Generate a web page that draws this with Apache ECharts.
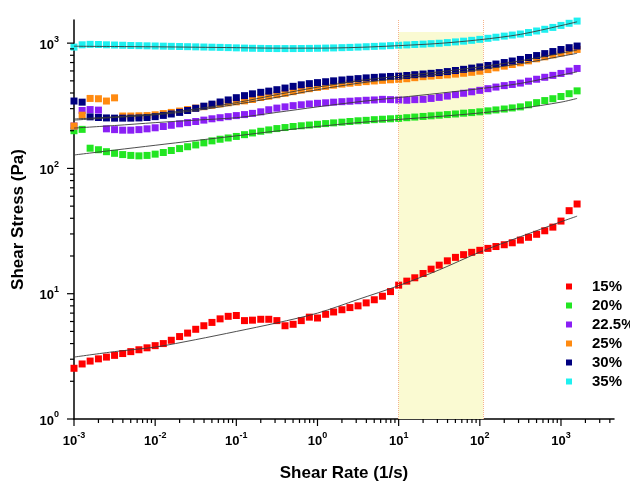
<!DOCTYPE html>
<html>
<head>
<meta charset="utf-8">
<script src="https://cdn.jsdelivr.net/npm/echarts@6/dist/echarts.min.js"></script>
<style>
  html, body { margin: 0; padding: 0; background: #ffffff; }
  #chart { width: 630px; height: 487px; }
</style>
</head>
<body>
<div id="chart"></div>
<script>
// Shear sweep grid (1/s), ten points per decade
const shearRate = [
  0.001, 0.00126, 0.00158, 0.002, 0.00251, 0.00316, 0.00398, 0.00501, 0.00631, 0.00794,
  0.01, 0.0126, 0.0158, 0.02, 0.0251, 0.0316, 0.0398, 0.0501, 0.0631, 0.0794,
  0.1, 0.126, 0.158, 0.2, 0.251, 0.316, 0.398, 0.501, 0.631, 0.794,
  1, 1.26, 1.58, 2, 2.51, 3.16, 3.98, 5.01, 6.31, 7.94,
  10, 12.6, 15.8, 20, 25.1, 31.6, 39.8, 50.1, 63.1, 79.4,
  100, 126, 158, 200, 251, 316, 398, 501, 631, 794,
  1000, 1260, 1580
];

const concentrations = ['15%', '20%', '22.5%', '25%', '30%', '35%'];
const colors = ['#ff0000', '#22e622', '#8a1ff5', '#ff8a10', '#000080', '#1ef0f0'];

// Measured shear stress (Pa)
const stress15 = [
  2.54, 2.75, 2.9, 3.02, 3.12, 3.22, 3.33, 3.45, 3.57, 3.70, 3.85,
  4.0, 4.25, 4.55, 4.85, 5.2, 5.55, 5.9, 6.3, 6.6, 6.7,
  6.1, 6.15, 6.25, 6.25, 6.1, 5.55, 5.7, 6.1, 6.5, 6.4,
  6.85, 7.15, 7.45, 7.75, 8.0, 8.45, 8.95, 9.55, 10.4, 11.7,
  12.6, 13.4, 14.5, 15.7, 16.9, 18.3, 19.5, 20.5, 21.4, 22.2,
  23.0, 23.8, 24.6, 25.5, 26.8, 28.2, 29.8, 31.8, 34.0, 38,
  46, 52
];
const stress20 = [
  200, 205, 145, 141, 136, 132, 129, 127, 126, 127, 130,
  134, 139, 144, 149, 154, 160, 166, 171, 175, 180,
  186, 192, 198, 203, 208, 212, 216, 219, 222, 225,
  228, 231, 234, 237, 240, 242, 245, 247, 249, 251,
  254, 257, 260, 263, 266, 269, 272, 276, 279, 283,
  288, 293, 298, 304, 310, 322, 335, 348, 360, 375,
  395, 416
];
const stress225 = [
  218, 290, 295, 292, 207, 204, 202, 202, 204, 207, 211,
  216, 221, 227, 232, 237, 243, 249, 254, 259, 264,
  269, 275, 283, 294, 303, 310, 317, 322, 327, 331,
  334, 338, 341, 344, 347, 350, 352, 356, 354, 352,
  350, 354, 356, 362, 369, 378, 388, 398, 409, 420,
  433, 446, 458, 468, 480, 497, 515, 534, 553, 573,
  598, 628
];
const stress25 = [
  218, 266, 362, 360, 345, 366, 262, 262, 263, 264, 268,
  274, 280, 287, 295, 303, 311, 319, 327, 334, 340,
  346, 355, 368, 377, 387, 398, 410, 422, 433, 443,
  452, 462, 471, 479, 486, 493, 499, 505, 510, 514,
  520, 530, 540, 546, 552, 558, 566, 575, 585, 597,
  615, 635, 655, 675, 697, 722, 750, 778, 806, 835,
  862, 891
];
const stress30 = [
  345, 338, 258, 255, 253, 252, 252, 252, 253, 255, 259,
  265, 272, 280, 290, 302, 314, 326, 339, 352, 367,
  381, 394, 405, 414, 425, 438, 452, 465, 475, 484,
  492, 500, 508, 515, 521, 528, 533, 538, 542, 546,
  552, 560, 567, 574, 582, 593, 605, 618, 632, 646,
  663, 681, 700, 720, 741, 768, 796, 825, 857, 890,
  920, 948
];
const stress35 = [
  930, 970, 978, 975, 970, 966, 962, 958, 955, 952, 949,
  946, 943, 940, 937, 934, 931, 928, 925, 921, 917,
  913, 910, 908, 906, 905, 905, 905, 906, 908, 910,
  913, 916, 920, 925, 930, 936, 942, 948, 955, 962,
  968, 975, 982, 990, 998, 1010, 1023, 1037, 1053, 1072,
  1093, 1115, 1138, 1160, 1182, 1215, 1250, 1290, 1335, 1385,
  1440, 1500
];

// Model fit curves, half-decade grid
const fitRate = [0.001, 0.00316, 0.01, 0.0316, 0.1, 0.316, 1, 3.16, 10, 31.6, 100, 316, 1000, 1580];
const fit15  = [3.12, 3.45, 3.75, 4.3, 5.0, 5.85, 7.0, 9.0, 11.6, 15.5, 21.5, 28.5, 37.5, 41.6];
const fit20  = [128, 140, 153, 167, 182, 199, 216, 232, 246, 260, 277, 301, 338, 362];
const fit225 = [210, 220, 232, 243, 254, 280, 310, 340, 368, 398, 433, 477, 555, 590];
const fit25  = [243, 255, 268, 290, 325, 370, 425, 478, 522, 565, 615, 685, 785, 830];
const fit30  = [248, 258, 272, 298, 335, 388, 445, 500, 545, 590, 645, 722, 830, 880];
const fit35  = [945, 940, 935, 928, 920, 912, 912, 925, 955, 995, 1065, 1175, 1380, 1480];

// Highlighted shear-rate window (1/s) and its fill height (Pa)
const bandRange = [10, 110];
const bandTop = 1225;

const xMin = 0.001, xMax = 4500;
const yMin = 1, yMax = 1530;

const stressSets = [stress15, stress20, stress225, stress25, stress30, stress35];
const fitSets = [fit15, fit20, fit225, fit25, fit30, fit35];

// Log-distributed minor tick positions (2..9 × 10^k) inside each axis range
function minorTicks(lo, hi) {
  const out = [];
  for (let k = Math.floor(Math.log10(lo)); k <= Math.ceil(Math.log10(hi)); k++) {
    for (let m = 2; m <= 9; m++) {
      const v = m * Math.pow(10, k);
      if (v > lo && v < hi) out.push(v);
    }
  }
  return out;
}
function majorTicks(lo, hi) {
  const out = [];
  for (let k = Math.ceil(Math.log10(lo) - 1e-9); k <= Math.floor(Math.log10(hi) + 1e-9); k++) out.push(Math.pow(10, k));
  return out;
}

const FONT = "'Liberation Sans', Arial, sans-serif";

function powLabel(v) {
  const lg = Math.log10(v);
  const e = Math.round(lg);
  if (Math.abs(lg - e) > 1e-6) return '';
  return '{b|10}{s|' + e + '}';
}
const labelRich = {
  b: { fontSize: 13, fontWeight: 'bold', color: '#000', fontFamily: FONT, padding: [4, 0, 0, 0] },
  s: { fontSize: 9, fontWeight: 'bold', color: '#000', fontFamily: FONT, verticalAlign: 'top' }
};

function tickSeries(axis, values, len) {
  return {
    type: 'custom',
    silent: true,
    clip: false,
    z: 6,
    data: values.map(v => axis === 'x' ? [v, yMin] : [xMin, v]),
    renderItem: function (params, api) {
      const p = api.coord([api.value(0), api.value(1)]);
      const shape = axis === 'x'
        ? { x1: p[0], y1: p[1], x2: p[0], y2: p[1] + len }
        : { x1: p[0], y1: p[1], x2: p[0] - len, y2: p[1] };
      return { type: 'line', shape: shape, style: { stroke: '#000', lineWidth: 1.2 } };
    }
  };
}

const series = [];

// Shaded window with dotted boundaries
series.push({
  name: 'window',
  type: 'line',
  data: [],
  z: 1,
  silent: true,
  markArea: {
    silent: true,
    itemStyle: { color: '#fafad2' },
    data: [[{ coord: [bandRange[0], yMin] }, { coord: [bandRange[1], bandTop] }]]
  },
  markLine: {
    silent: true,
    symbol: 'none',
    label: { show: false },
    lineStyle: { color: '#f5b48c', type: 'dotted', width: 1 },
    data: bandRange.map(x => ({ xAxis: x }))
  }
});

concentrations.forEach((name, i) => {
  series.push({
    name: name,
    type: 'scatter',
    symbol: 'rect',
    symbolSize: 7,
    z: 3,
    itemStyle: { color: colors[i], opacity: 1 },
    data: shearRate.map((x, j) => [x, stressSets[i][j]])
  });
});

fitSets.forEach((vals, i) => {
  series.push({
    name: 'fit ' + concentrations[i],
    type: 'line',
    smooth: 0.3,
    showSymbol: false,
    symbol: 'none',
    z: 4,
    silent: true,
    lineStyle: { color: '#3a3a3a', width: 0.9 },
    data: fitRate.map((x, j) => [x, vals[j]])
  });
});

series.push(tickSeries('x', majorTicks(xMin, xMax), 7));
series.push(tickSeries('x', minorTicks(xMin, xMax), 4));
series.push(tickSeries('y', majorTicks(yMin, yMax), 7));
series.push(tickSeries('y', minorTicks(yMin, yMax), 4));

const chart = echarts.init(document.getElementById('chart'), null, { renderer: 'canvas' });
chart.setOption({
  animation: false,
  backgroundColor: '#ffffff',
  grid: { left: 74, right: 16, top: 20, bottom: 68, containLabel: false },
  legend: {
    data: concentrations,
    orient: 'vertical',
    left: 561,
    top: 272,
    icon: 'rect',
    itemWidth: 6,
    itemHeight: 6,
    itemGap: 0,
    textStyle: { fontSize: 15, fontWeight: 'bold', color: '#000', fontFamily: FONT, lineHeight: 19, padding: [0, 0, 0, 15] }
  },
  xAxis: {
    type: 'log',
    logBase: 10,
    min: xMin,
    max: xMax,
    name: 'Shear Rate (1/s)',
    nameLocation: 'middle',
    nameGap: 46,
    nameTextStyle: { fontSize: 17, fontWeight: 'bold', color: '#000', fontFamily: FONT },
    axisLine: { show: true, onZero: false, lineStyle: { color: '#000', width: 1.5 } },
    axisTick: { show: false },
    minorTick: { show: false },
    splitLine: { show: false },
    axisLabel: { margin: 12, formatter: powLabel, rich: labelRich, showMinLabel: true, showMaxLabel: true }
  },
  yAxis: {
    type: 'log',
    logBase: 10,
    min: yMin,
    max: yMax,
    name: 'Shear Stress (Pa)',
    nameLocation: 'middle',
    nameGap: 47,
    nameTextStyle: { fontSize: 17, fontWeight: 'bold', color: '#000', fontFamily: FONT },
    axisLine: { show: true, onZero: false, lineStyle: { color: '#000', width: 1.5 } },
    axisTick: { show: false },
    minorTick: { show: false },
    splitLine: { show: false },
    axisLabel: { margin: 15, formatter: powLabel, rich: labelRich }
  },
  series: series
});
</script>
</body>
</html>
